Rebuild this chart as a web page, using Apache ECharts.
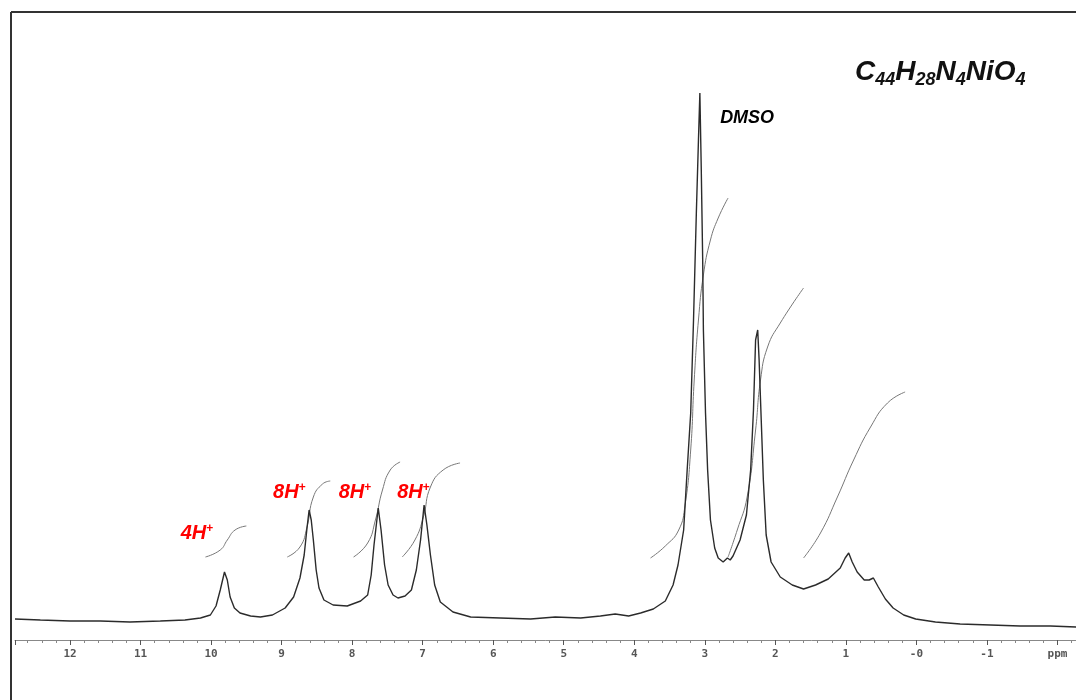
<!DOCTYPE html>
<html lang="en">
<head>
    <meta charset="UTF-8">
    <title>C44H28N4NiO4 1H NMR</title>
    <script src="https://cdn.jsdelivr.net/npm/echarts@6/dist/echarts.min.js"></script>
    <style>
        html, body { margin: 0; padding: 0; background: #fff; }
        #container { width: 1076px; height: 700px; }
    </style>
</head>
<body>
<div id="container"></div>
<script>
    // spectrum trace: [ppm, intensity]
    var spectrum = [
        [12.78, 21], [12.42, 20], [12.00, 19], [11.57, 19], [11.15, 18], [10.72, 19], [10.37, 20],
        [10.15, 22], [10.01, 25], [9.93, 34], [9.87, 50], [9.81, 68], [9.77, 60], [9.73, 43],
        [9.67, 32], [9.59, 27], [9.44, 24], [9.30, 23], [9.13, 25], [8.95, 32], [8.83, 43],
        [8.74, 62], [8.68, 85], [8.64, 112], [8.61, 130], [8.58, 120], [8.55, 100], [8.51, 70],
        [8.47, 52], [8.40, 40], [8.27, 35], [8.07, 34], [7.88, 39], [7.78, 45], [7.73, 65],
        [7.69, 95], [7.63, 132], [7.59, 110], [7.54, 75], [7.49, 55], [7.42, 45], [7.35, 42],
        [7.25, 44], [7.16, 50], [7.09, 70], [7.03, 100], [6.98, 135], [6.94, 115], [6.89, 85],
        [6.83, 55], [6.75, 38], [6.57, 28], [6.32, 23], [5.90, 22], [5.47, 21], [5.12, 23],
        [4.76, 22], [4.48, 24], [4.27, 26], [4.08, 24], [3.91, 27], [3.73, 31], [3.56, 39],
        [3.45, 55], [3.38, 75], [3.30, 110], [3.25, 170], [3.20, 227], [3.16, 320], [3.12, 427],
        [3.09, 500], [3.07, 547], [3.05, 470], [3.03, 380], [3.02, 310], [2.99, 227], [2.96, 170],
        [2.92, 120], [2.86, 92], [2.81, 82], [2.74, 78], [2.68, 82], [2.64, 80], [2.60, 84],
        [2.50, 100], [2.41, 125], [2.35, 170], [2.31, 230], [2.28, 300], [2.25, 310], [2.23, 280],
        [2.20, 220], [2.17, 160], [2.13, 105], [2.06, 78], [1.93, 63], [1.76, 55], [1.60, 51],
        [1.43, 55], [1.25, 61], [1.08, 72], [1.01, 82], [0.96, 87], [0.91, 78], [0.84, 68],
        [0.74, 60], [0.67, 60], [0.61, 62], [0.54, 53], [0.44, 41], [0.33, 32], [0.18, 25],
        [0.01, 21], [-0.27, 18], [-0.62, 16], [-1.05, 15], [-1.47, 14], [-1.90, 14], [-2.27, 13]
    ];

    // integral curves
    var integrals = [
        [[10.08, 83], [9.87, 90], [9.77, 100], [9.66, 110], [9.50, 114]],
        [[8.92, 83], [8.74, 93], [8.64, 113], [8.55, 143], [8.42, 156], [8.31, 159]],
        [[7.98, 83], [7.78, 97], [7.67, 120], [7.57, 150], [7.46, 170], [7.32, 178]],
        [[7.29, 83], [7.11, 100], [6.99, 123], [6.89, 153], [6.71, 170], [6.47, 177]],
        [[3.77, 82], [3.56, 94], [3.37, 110], [3.28, 135], [3.20, 190], [3.15, 260], [3.09, 320],
         [3.02, 365], [2.92, 400], [2.81, 422], [2.67, 442]],
        [[2.67, 83], [2.54, 110], [2.40, 143], [2.28, 210], [2.21, 260], [2.11, 293], [1.93, 317], [1.60, 352]],
        [[1.60, 82], [1.36, 107], [1.12, 143], [0.89, 180], [0.65, 213], [0.41, 237], [0.16, 248]]
    ];

    // peak labels: [ppm, intensity, text]
    var protonLabels = [[10.20, 107, '4H'], [8.89, 148, '8H'], [7.96, 148, '8H'], [7.13, 148, '8H']];
    var solventLabel = [2.40, 522, 'DMSO'];

    var myChart = echarts.init(document.getElementById('container'));

    var series = [{
        type: 'line',
        data: spectrum,
        showSymbol: false,
        lineStyle: { color: '#2b2b2b', width: 1.4 },
        z: 3
    }];
    integrals.forEach(function (d) {
        series.push({
            type: 'line',
            data: d,
            smooth: true,
            showSymbol: false,
            lineStyle: { color: '#777', width: 1 },
            z: 2
        });
    });
    series.push({
        type: 'scatter',
        symbolSize: 0,
        itemStyle: { opacity: 1 },
        data: protonLabels.map(function (p) { return [p[0], p[1], p[2]]; }),
        label: {
            show: true,
            position: 'inside',
            formatter: function (p) { return '{m|' + p.data[2] + '}{s|+}'; },
            rich: {
                m: { fontFamily: 'Liberation Sans', fontSize: 20, fontWeight: 'bold', fontStyle: 'italic', color: '#ff0000', verticalAlign: 'bottom' },
                s: { fontFamily: 'Liberation Sans', fontSize: 12, fontWeight: 'bold', color: '#ff0000', verticalAlign: 'bottom', padding: [0, 0, 9, 0] }
            }
        },
        z: 5
    });
    series.push({
        type: 'scatter',
        symbolSize: 0,
        itemStyle: { opacity: 1 },
        data: [solventLabel],
        label: {
            show: true,
            position: 'inside',
            formatter: function (p) { return p.data[2]; },
            fontFamily: 'Liberation Sans',
            fontSize: 18,
            fontWeight: 'bold',
            fontStyle: 'italic',
            color: '#000'
        },
        z: 5
    });

    var option = {
        animation: false,
        grid: { left: 15, top: 40, width: 1113, height: 600, outerBoundsMode: 'none', containLabel: false },
        xAxis: {
            type: 'value',
            inverse: true,
            min: -3,
            max: 12.78,
            interval: 1,
            splitLine: { show: false },
            axisLine: { lineStyle: { color: '#888', width: 1 } },
            axisTick: { length: 5, lineStyle: { color: '#555' } },
            minorTick: { show: true, splitNumber: 5, length: 3, lineStyle: { color: '#888' } },
            axisLabel: {
                margin: 9,
                fontFamily: 'DejaVu Sans Mono',
                fontSize: 11,
                fontWeight: 'bold',
                color: '#555',
                showMaxLabel: false,
                formatter: function (v) {
                    if (Math.abs(v - Math.round(v)) > 0.001) return '';
                    if (v === 0) return '-0';
                    if (v === -2) return 'ppm';
                    return String(v);
                }
            }
        },
        yAxis: { type: 'value', min: 0, max: 600, show: false },
        graphic: [
            { type: 'line', shape: { x1: 11, y1: 12, x2: 11, y2: 700 }, style: { stroke: '#333', lineWidth: 2 } },
            { type: 'line', shape: { x1: 11, y1: 12, x2: 1076, y2: 12 }, style: { stroke: '#333', lineWidth: 2 } },
            {
                type: 'text',
                left: 855,
                top: 58,
                style: {
                    text: 'C{s|44}H{s|28}N{s|4}NiO{s|4}',
                    fontFamily: 'Liberation Sans',
                    fontSize: 28,
                    fontWeight: 'bold',
                    fontStyle: 'italic',
                    fill: '#111',
                    rich: {
                        s: { fontFamily: 'Liberation Sans', fontSize: 18, fontWeight: 'bold', fontStyle: 'italic', fill: '#111', padding: [16, 0, 0, 0] }
                    }
                }
            }
        ],
        series: series
    };
    myChart.setOption(option);

    window.onresize = function () {
        myChart.resize();
    };
</script>
</body>
</html>
